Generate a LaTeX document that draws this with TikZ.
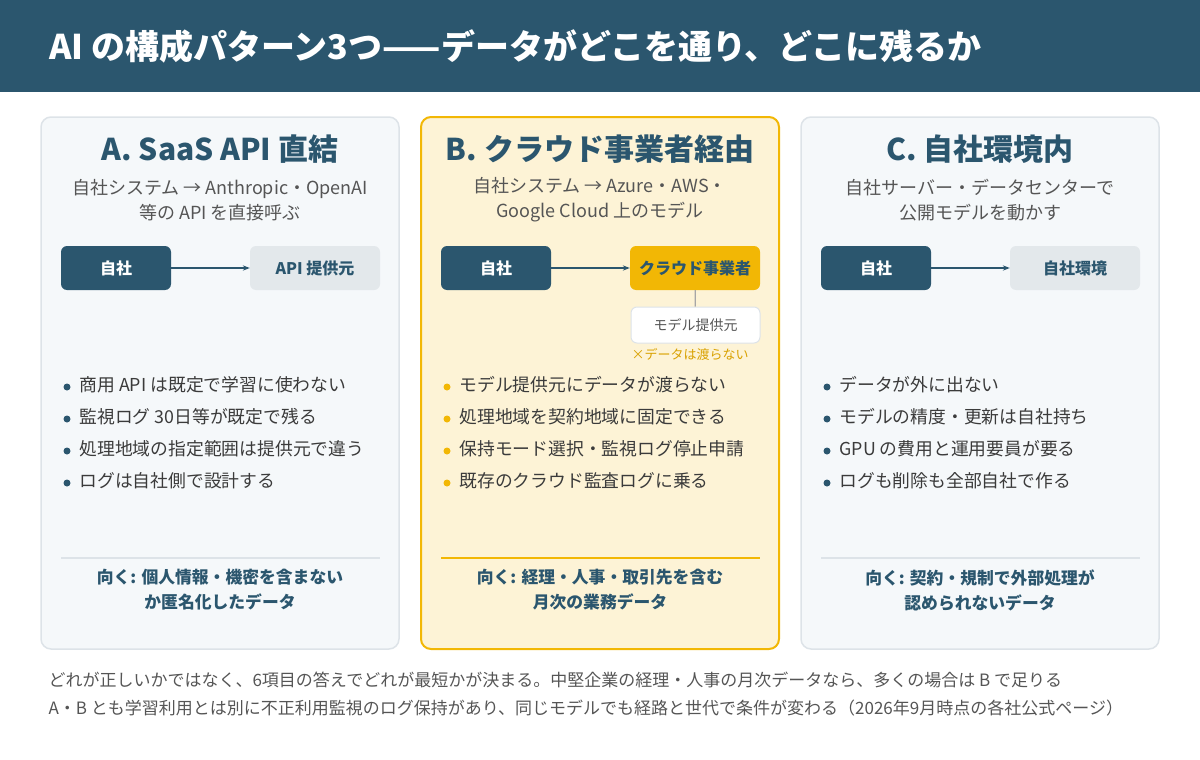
\documentclass[tikz,border=0pt]{standalone}
\usepackage{fontspec}
\setmainfont{Noto Sans CJK JP}
\usetikzlibrary{arrows.meta}
\definecolor{navy}{HTML}{2B566E}
\definecolor{gold}{HTML}{F2B705}
\definecolor{goldt}{HTML}{D9A100}
\definecolor{txt}{HTML}{555555}
\definecolor{panel}{HTML}{F5F8FA}
\definecolor{pborder}{HTML}{DDE3E8}
\definecolor{lbox}{HTML}{E3E8EB}
\definecolor{bpanel}{HTML}{FDF3D6}
\begin{document}
\begin{tikzpicture}[x=1pt,y=-1pt,
  panel/.style={draw=pborder,line width=1.5pt,fill=panel,rounded corners=10pt},
  ptitle/.style={font=\fontsize{30}{32}\selectfont\bfseries,text=navy},
  sub/.style={font=\fontsize{18}{25}\selectfont,text=txt,align=center},
  self/.style={fill=navy,text=white,rounded corners=6pt,minimum width=110pt,minimum height=44pt,font=\fontsize{16}{18}\selectfont\bfseries},
  dest/.style={fill=lbox,text=navy,rounded corners=6pt,minimum width=130pt,minimum height=44pt,font=\fontsize{16}{18}\selectfont\bfseries},
  arr/.style={draw=navy,line width=1.8pt,-{Stealth[length=7pt]}},
  bul/.style={anchor=west,font=\fontsize{17.8}{20}\selectfont,text=txt!70!black},
  bottom/.style={font=\fontsize{16.8}{25}\selectfont\bfseries,text=navy,align=center},
  foot/.style={anchor=west,font=\fontsize{17}{18}\selectfont,text=txt}]
\useasboundingbox (0,0) rectangle (1200,760);
\fill[navy] (0,0) rectangle (1200,92);
\node[anchor=west,text=white,font=\fontsize{34}{36}\selectfont\bfseries] (title) at (46,46) {AI の構成パターン3つ——データがどこを通り、どこに残るか};
% panels
\draw[panel] (41,117) rectangle (399,649);
\draw[panel,fill=bpanel,draw=gold,line width=2pt] (421,117) rectangle (779,649);
\draw[panel] (801,117) rectangle (1159,649);
% A
\node[ptitle] (ta) at (220,149) {A. SaaS API 直結};
\node[sub] (sa) at (220,200) {自社システム → Anthropic・OpenAI\\等の API を直接呼ぶ};
\node[self] (a1) at (116,268) {自社};
\node[dest] (a2) at (315,268) {API 提供元};
\draw[arr] (a1) -- (a2);
% B
\node[ptitle] (tb) at (600,149) {B. クラウド事業者経由};
\node[sub] (sb) at (600,200) {自社システム → Azure・AWS・\\Google Cloud 上のモデル};
\node[self] (b1) at (496,268) {自社};
\node[dest,fill=gold] (b2) at (695,268) {クラウド事業者};
\draw[arr] (b1) -- (b2);
\node[draw=pborder,line width=1pt,fill=white,rounded corners=6pt,minimum width=129pt,minimum height=36pt,text=txt,font=\fontsize{14}{16}\selectfont] (b3) at (695.5,325) {モデル提供元};
\draw[draw=black!35,line width=1.2pt] (b2) -- (b3);
\node[text=goldt,font=\fontsize{13}{15}\selectfont] (b4) at (690,354) {×データは渡らない};
% C
\node[ptitle] (tc) at (980,149) {C. 自社環境内};
\node[sub] (sc) at (980,200) {自社サーバー・データセンターで\\公開モデルを動かす};
\node[self] (c1) at (876,268) {自社};
\node[dest] (c2) at (1075,268) {自社環境};
\draw[arr] (c1) -- (c2);
% bullets
\foreach \x/\c/\a/\b/\cc/\d in {
 0/navy/商用 API は既定で学習に使わない/監視ログ 30日等が既定で残る/処理地域の指定範囲は提供元で違う/ログは自社側で設計する,
 380/gold/モデル提供元にデータが渡らない/処理地域を契約地域に固定できる/保持モード選択・監視ログ停止申請/既存のクラウド監査ログに乗る,
 760/navy/データが外に出ない/モデルの精度・更新は自社持ち/GPU の費用と運用要員が要る/ログも削除も全部自社で作る}{
  \foreach \t [count=\i] in {\a,\b,\cc,\d}{
    \fill[\c] (67+\x,387+32*\i-32) circle (3.5pt);
    \node[bul] at (76+\x,385+32*\i-32) {\t};
  }
}
% dividers
\draw[pborder,line width=1.5pt] (61,558) -- (380,558);
\draw[gold,line width=1.5pt] (441,558) -- (760,558);
\draw[pborder,line width=1.5pt] (821,558) -- (1140,558);
\node[bottom] (ba) at (220,590) {向く: 個人情報・機密を含まない\\か匿名化したデータ};
\node[bottom] (bb) at (600,590) {向く: 経理・人事・取引先を含む\\月次の業務データ};
\node[bottom] (bc) at (980,590) {向く: 契約・規制で外部処理が\\認められないデータ};
\node[foot] (f1) at (45,680) {どれが正しいかではなく、6項目の答えでどれが最短かが決まる。中堅企業の経理・人事の月次データなら、多くの場合は B で足りる};
\node[foot] (f2) at (45,708) {A・B とも学習利用とは別に不正利用監視のログ保持があり、同じモデルでも経路と世代で条件が変わる（2026年9月時点の各社公式ページ）};
\end{tikzpicture}
\end{document}
